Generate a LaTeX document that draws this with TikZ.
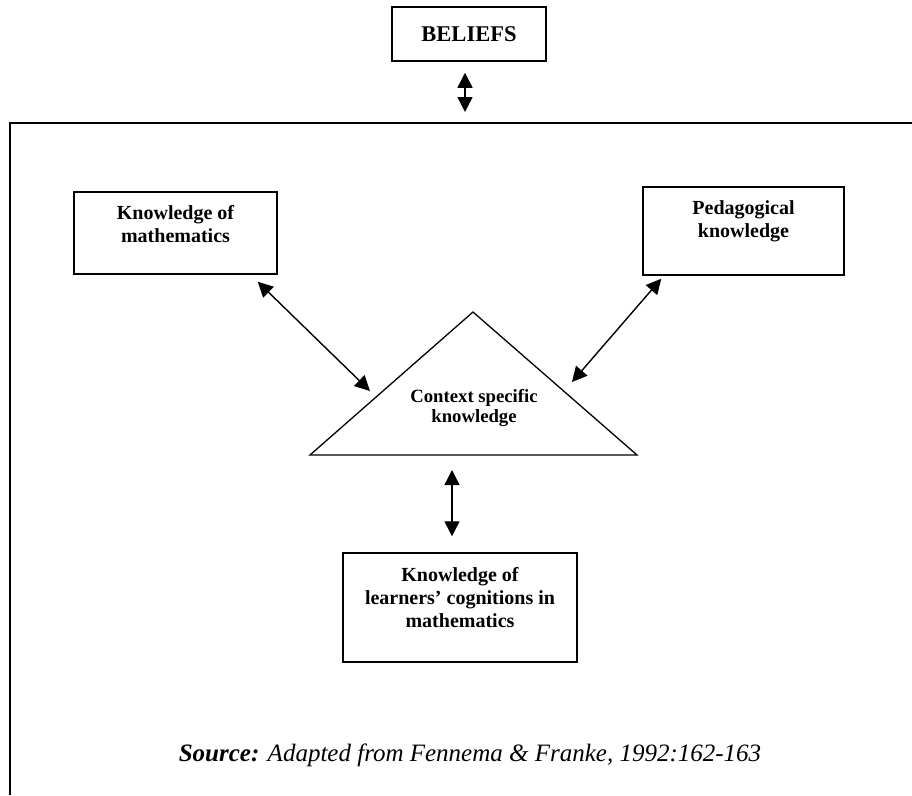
\documentclass[tikz,border=0pt]{standalone}
\usepackage{fontspec}
\setmainfont{Liberation Serif}
\usetikzlibrary{positioning, calc, arrows.meta}

\begin{document}
\begin{tikzpicture}[x=1pt, y=-1pt,
    box/.style={draw, line width=1.5pt, inner sep=0pt},
    boxtext/.style={font=\bfseries\fontsize{20}{23}\selectfont, align=center, inner sep=0pt},
    link/.style={line width=1.4pt, {Triangle[length=15pt,width=15pt]}-{Triangle[length=15pt,width=15pt]}}]

    \useasboundingbox (0,0) rectangle (912,795);

    % Draw beliefs box and outer frame
    \node[box, minimum width=154pt, minimum height=54pt, font=\bfseries\fontsize{22.5}{26}\selectfont] (beliefs) at (469,34) {BELIEFS};
    \draw[line width=1.5pt] (912,123) -- (10,123) -- (10,795);
    \coordinate (frametop) at (465,112);

    % Draw the three knowledge boxes
    \node[box, minimum width=203pt, minimum height=82pt] (math) at (175.5,233) {};
    \node[boxtext, below=14pt of math.north] (mathtext) {Knowledge of\\mathematics};

    \node[box, minimum width=201pt, minimum height=88pt] (ped) at (743.5,231) {};
    \node[boxtext, below=14pt of ped.north] (pedtext) {Pedagogical\\knowledge};

    \node[box, minimum width=234pt, minimum height=109pt] (learn) at (460,607.5) {};
    \node[boxtext, below=15pt of learn.north] (learntext) {Knowledge of\\learners’ cognitions in\\mathematics};

    % Draw triangle
    \coordinate (apex) at (473,312);
    \coordinate (baseL) at (310,455);
    \coordinate (baseR) at (637,455);
    \draw[line width=1.3pt] (baseL) -- (apex) -- (baseR) -- cycle;
    \node[boxtext, font=\bfseries\fontsize{18.7}{20}\selectfont] (context) at (474,408) {Context specific\\knowledge};
    \coordinate (ctxL) at (370,391);
    \coordinate (ctxR) at (572,382);
    \coordinate (ctxB) at (452,470);

    % Draw arrows
    \draw[link] ([shift={(-4,11)}]beliefs.south) -- (frametop);
    \draw[link] ([shift={(-20,7)}]math.south east) -- (ctxL);
    \draw[link] ([shift={(19,3)}]ped.south west) -- (ctxR);
    \draw[link] (ctxB) -- ([shift={(-8,-16)}]learn.north);

    % Add source
    \node[font=\itshape\fontsize{25}{28}\selectfont, anchor=base, inner sep=0pt] (source) at (470,761) {\textbf{Source:} Adapted from Fennema \& Franke, 1992:162-163};
\end{tikzpicture}
\end{document}
